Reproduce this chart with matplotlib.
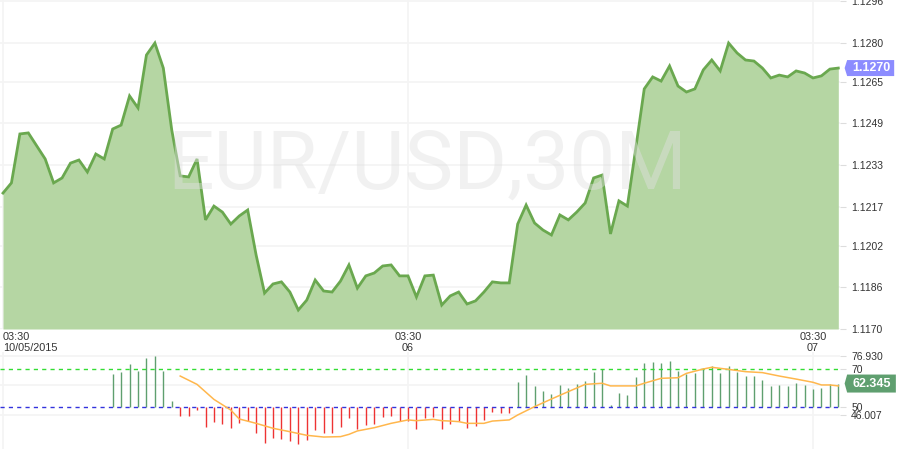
import numpy as np
import matplotlib.pyplot as plt
from matplotlib.patches import Polygon

# EUR/USD 30M close prices (100 bars)
price = [1.12222, 1.12261, 1.12449, 1.12453, 1.12403, 1.12353, 1.12261, 1.12280, 1.12337, 1.12349,
         1.12303, 1.12372, 1.12353, 1.12468, 1.12483, 1.12595, 1.12549, 1.12752, 1.12798, 1.12702,
         1.12464, 1.12288, 1.12284, 1.12353, 1.12119, 1.12172, 1.12149, 1.12103, 1.12134, 1.12157,
         1.11984, 1.11838, 1.11873, 1.11881, 1.11842, 1.11773, 1.11811, 1.11888, 1.11846, 1.11842,
         1.11884, 1.11946, 1.11857, 1.11904, 1.11915, 1.11942, 1.11946, 1.11904, 1.11904, 1.11823,
         1.11904, 1.11907, 1.11792, 1.11827, 1.11842, 1.11796, 1.11808, 1.11842, 1.11881, 1.11877,
         1.11877, 1.12103, 1.12176, 1.12107, 1.12080, 1.12061, 1.12138, 1.12119, 1.12149, 1.12184,
         1.12280, 1.12291, 1.12065, 1.12192, 1.12172, 1.12395, 1.12622, 1.12668, 1.12652, 1.12710,
         1.12633, 1.12610, 1.12622, 1.12695, 1.12733, 1.12691, 1.12798, 1.12760, 1.12733, 1.12729,
         1.12702, 1.12664, 1.12675, 1.12668, 1.12691, 1.12683, 1.12664, 1.12672, 1.12698, 1.12702]

# oscillator histogram, starts at bar 13
osc_start = 13
osc = [67.4, 68.4, 72.6, 68.9, 75.8, 76.93, 68.9, 53.2,
       45.4, 45.4, 48.4, 39.6, 42.3, 40.9, 39.1, 41.4, 42.8, 36.1,
       31.2, 33.5, 33.2, 32.3, 30.3, 32.6, 37.9, 36.5, 36.1, 39.6,
       44.0, 38.4, 40.5, 40.9, 44.9, 45.3, 42.8, 42.8, 38.4, 44.0,
       44.9, 38.2, 40.9, 42.8, 39.1, 40.2, 43.2, 47.2, 46.7, 46.7,
       63.3, 67.0, 61.2, 58.4, 56.8, 61.6, 59.8, 61.9, 63.7, 68.6,
       69.8, 51.1, 57.5, 56.3, 66.0, 73.0, 73.9, 73.0, 74.4, 69.1,
       67.2, 67.7, 70.4, 71.8, 68.1, 71.8, 68.6, 66.5, 66.5, 64.2,
       61.2, 61.6, 61.2, 62.5, 61.6, 59.5, 60.2, 62.1, 62.345]

# signal line vertices (bar index, value)
sig_idx = [21, 23, 25, 27, 28, 30, 32, 34, 36, 38, 40, 41, 42, 44, 46, 48, 49, 51, 52,
           53, 54, 55, 57, 58, 60, 61, 63, 65, 67, 69, 71, 72, 75, 76, 78, 80, 81, 83, 84,
           86, 88, 90, 92, 94, 96, 97, 98, 99]
sig_val = [66.3, 61.9, 54.0, 48.4, 43.7, 41.4, 38.8, 37.0, 35.1, 34.2, 34.4, 35.6, 37.4, 39.1, 41.4, 43.2, 42.8, 43.5, 42.8,
           42.6, 42.3, 41.4, 41.4, 42.6, 43.2, 45.8, 50.2, 54.2, 58.1, 61.9, 62.5, 61.1, 61.1, 62.5, 65.1, 65.4, 67.7, 70.0, 70.9,
           69.8, 68.6, 68.1, 66.3, 64.7, 63.0, 61.6, 61.6, 61.1]

price_ticks = [1.1170, 1.1186, 1.1202, 1.1217, 1.1233, 1.1249, 1.1265, 1.1280, 1.1296]
x_ticks = [0, 48, 96]
x_labels = ['03:30\n10/05/2015', '03:30\n06', '03:30\n07']

W, H = 900, 449
fig = plt.figure(figsize=(9, 4.49), dpi=100)
plt.rcParams['font.family'] = ['Liberation Sans', 'DejaVu Sans']

px = 8.4375
x0 = 3.0
xl = (-x0 / px, (840 - x0) / px)

ax = fig.add_axes([0, (H - 329) / H, 840 / W, 329 / H])
ax2 = fig.add_axes([0, 0, 840 / W, 97 / H])

x = np.arange(len(price))
ymin = 1.1170
ymax = 1.1170 + 329 * 0.0000384

grid_c = '#f4f4f4'
for v in price_ticks:
    ax.axhline(v, color=grid_c, lw=1.2, zorder=0)
for t in x_ticks:
    ax.axvline(t, color=grid_c, lw=1.2, zorder=0)
    ax2.axvline(t, color=grid_c, lw=1.2, zorder=0)

ax.fill_between(x, price, ymin, color='#b5d6a3', lw=0, zorder=2)
ax.plot(x, price, color='#6aa84f', lw=2.0, zorder=3, solid_joinstyle='miter')

ax.text(0.508, 0.495, 'EUR/USD,30M', transform=ax.transAxes, ha='center', va='center',
        fontsize=59, family=['Roboto', 'DejaVu Sans'],
        color='#e1e1e1', alpha=0.45, zorder=4)

ax.set_xlim(*xl)
ax.set_ylim(ymin, ymax)
ax.yaxis.tick_right()
ax.set_yticks(price_ticks)
ax.set_yticklabels(['%.4f' % v for v in price_ticks])
ax.tick_params(axis='y', length=4, color='#dddddd', pad=4, labelsize=7.5, labelcolor='#333333')
ax.set_xticks(x_ticks)
ax.set_xticklabels(x_labels)
ax.tick_params(axis='x', length=0, pad=2, labelsize=7.8, labelcolor='#333333')
lbls = ax.get_xticklabels()
lbls[0].set_horizontalalignment('left')
lbls[0].set_x(xl[0])
for sp in ax.spines.values():
    sp.set_visible(False)

# last price tag
last = price[-1]
yf = (last - ymin) / (ymax - ymin)
dy1 = 8 / 329
tag = Polygon([[1.0055, yf], [1.0085, yf + dy1], [1.0645, yf + dy1], [1.0645, yf - dy1],
               [1.0085, yf - dy1]], closed=True, transform=ax.transAxes, clip_on=False,
              facecolor='#8c8cff', edgecolor='none', zorder=5)
ax.add_patch(tag)
ax.text(1.037, yf, '%.4f' % last, transform=ax.transAxes, ha='center', va='center',
        color='white', fontweight='bold', fontsize=9, zorder=6, clip_on=False)

# oscillator panel
lo = 50 - 42 / 1.9
hi = 50 + 55 / 1.9
ox = np.arange(osc_start, osc_start + len(osc))
osc = np.array(osc)
cols = np.where(osc >= 50, '#5f9f6f', '#ee3333')
ax2.vlines(ox, 50, osc, colors=cols, lw=1.0, zorder=2)
ax2.axhline(70, color='#33dd33', lw=1.0, ls=(0, (3, 3)), zorder=3)
ax2.axhline(50, color='#3333dd', lw=1.0, ls=(0, (3, 3)), zorder=3)
for v in [max(osc), (max(osc) + 46.007) / 2, 46.007]:
    ax2.axhline(v, color=grid_c, lw=1.2, zorder=0)
ax2.plot(sig_idx, sig_val, color='#ffb74d', lw=1.1, zorder=4)

ax2.set_xlim(*xl)
ax2.set_ylim(lo, hi)
ax2.set_xticks([])
ax2.yaxis.tick_right()
ax2.set_yticks([76.93, 70, 50, 46.007])
ax2.set_yticklabels(['76.930', '70', '50', '46.007'])
ax2.tick_params(axis='y', length=4, color='#dddddd', pad=4, labelsize=7.5, labelcolor='#333333')
for sp in ax2.spines.values():
    sp.set_visible(False)

yf2 = (osc[-1] - lo) / (hi - lo)
dy = 9 / 97
tag2 = Polygon([[1.0055, yf2], [1.0085, yf2 + dy], [1.0665, yf2 + dy], [1.0665, yf2 - dy],
                [1.0085, yf2 - dy]], closed=True, transform=ax2.transAxes, clip_on=False,
               facecolor='#5f9f6f', edgecolor='none', zorder=5)
ax2.add_patch(tag2)
ax2.text(1.038, yf2, '%.3f' % osc[-1], transform=ax2.transAxes, ha='center', va='center',
         color='white', fontweight='bold', fontsize=9, zorder=6, clip_on=False)

fig.savefig('out.png', dpi=100)
